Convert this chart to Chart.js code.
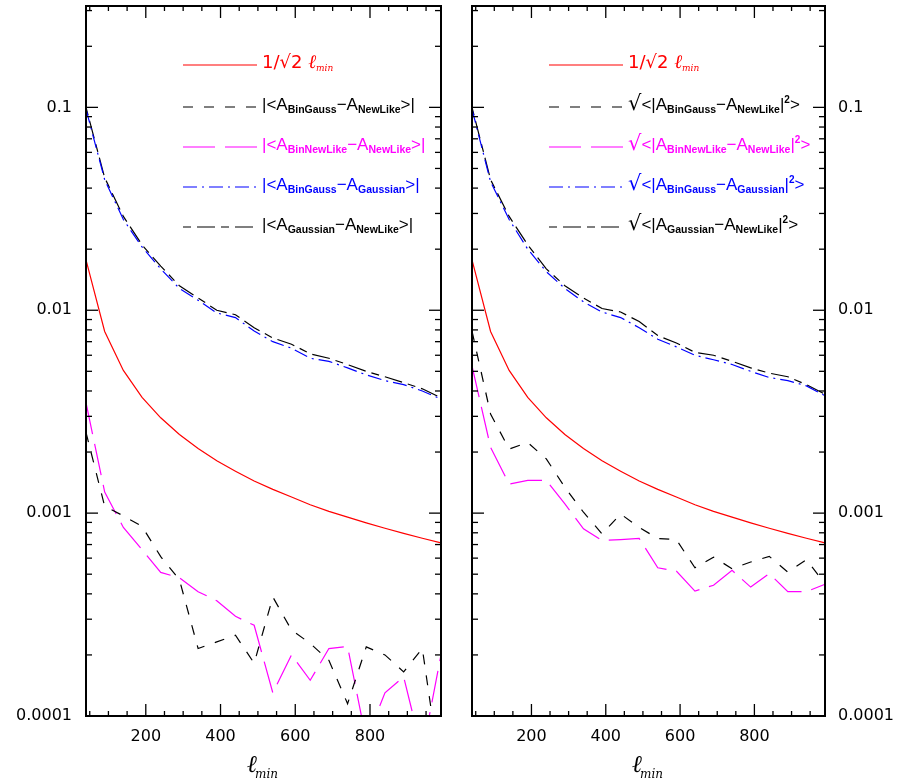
<!DOCTYPE html>
<html>
<head>
<meta charset="utf-8">
<script src="https://cdn.jsdelivr.net/npm/chart.js@4.4.1/dist/chart.umd.min.js"></script>
<style>
  html, body { margin: 0; padding: 0; background: #fff; }
  #wrap { position: relative; width: 901px; height: 783px; }
  canvas { position: absolute; left: 0; top: 0; }
</style>
</head>
<body>
<div id="wrap">
  <canvas id="leftChart" width="901" height="783"></canvas>
  <canvas id="rightChart" width="901" height="783"></canvas>
</div>
<script>
// l_min sample points, same for both panels
const lMin = [40, 90, 140, 190, 240, 290, 340, 390, 440, 490, 540, 590, 640, 690, 740, 790, 840, 890, 940, 990];

// red curve 1/sqrt2 l_min
const halfRootL = [0.0177, 0.00786, 0.00505, 0.00372, 0.00295, 0.00244, 0.00208, 0.00181, 0.00161, 0.00144,
                   0.00131, 0.00120, 0.00110, 0.00102, 0.000956, 0.000895, 0.000842, 0.000795, 0.000752, 0.000714];

// left panel: |<A - A>|
const absBinGaussNewLike = [0.0025, 0.00108, 0.00097, 0.00086, 0.00061, 0.00047, 0.000215, 0.000232, 0.00025, 0.000182,
                            0.000386, 0.000265, 0.000228, 0.000188, 0.000115, 0.000219, 0.0002, 0.000165, 0.000215, 0.00005];
const absBinNewLikeNewLike = [0.0035, 0.00127, 0.00085, 0.00066, 0.00051, 0.00048, 0.00041, 0.00037, 0.00031, 0.00028,
                              0.00013, 0.0002, 0.00015, 0.000215, 0.00022, 0.000076, 0.00013, 0.000156, 0.000066, 0.0002];
const absBinGaussGaussian = [0.098, 0.044, 0.028, 0.0205, 0.016, 0.0128, 0.0112, 0.0097, 0.0092, 0.0079,
                             0.0070, 0.0065, 0.0058, 0.0056, 0.0052, 0.0048, 0.0045, 0.0043, 0.0040, 0.00365];
const absGaussianNewLike = [0.1, 0.045, 0.029, 0.021, 0.0165, 0.0132, 0.0115, 0.0100, 0.0095, 0.0082,
                            0.0073, 0.0068, 0.0061, 0.0058, 0.0054, 0.0050, 0.0047, 0.0044, 0.0041, 0.0037];

// right panel: sqrt<|A - A|^2>
const rmsBinGaussNewLike = [0.0079, 0.00308, 0.00207, 0.00223, 0.00185, 0.00134, 0.00101, 0.00079, 0.00099, 0.00085,
                            0.00075, 0.00074, 0.000538, 0.000607, 0.000532, 0.000574, 0.000612, 0.000512, 0.000589, 0.000449];
const rmsBinNewLikeNewLike = [0.00532, 0.00211, 0.00139, 0.00145, 0.00145, 0.00111, 0.000837, 0.000733, 0.00074, 0.00075,
                              0.000538, 0.000518, 0.000413, 0.000441, 0.000522, 0.000432, 0.000503, 0.00041, 0.00041, 0.000446];
const rmsBinGaussGaussian = [0.098, 0.043, 0.028, 0.020, 0.0155, 0.0128, 0.011, 0.0098, 0.0092, 0.0082,
                             0.0072, 0.0066, 0.0060, 0.0057, 0.0054, 0.0050, 0.00466, 0.0045, 0.00424, 0.00379];
const rmsGaussianNewLike = [0.1, 0.044, 0.029, 0.021, 0.016, 0.0132, 0.0115, 0.0102, 0.0098, 0.0088,
                            0.0075, 0.0069, 0.0062, 0.0060, 0.0056, 0.0052, 0.0049, 0.0047, 0.0043, 0.00386];

// axis ticks
const xLabelTicks = [200, 400, 600, 800];
const xMinorTicks = [50, 100, 150, 200, 250, 300, 350, 400, 450, 500, 550, 600, 650, 700, 750, 800, 850, 900, 950];
const yDecades = [0.0001, 0.001, 0.01, 0.1];
const yTickLabels = ["0.0001", "0.001", "0.01", "0.1"];
const yMinorSteps = [2, 3, 4, 5, 6, 7, 8, 9];

// legend texts, split in pieces: [text, kind]
const redLabel = [["1/\u221A2 ", "big"], ["\u2113", "ell"], ["min", "ellSub"]];
const legendLeft = [
  redLabel,
  [["|<A", "n"], ["BinGauss", "sub"], ["\u2212A", "n"], ["NewLike", "sub"], [">|", "n"]],
  [["|<A", "n"], ["BinNewLike", "sub"], ["\u2212A", "n"], ["NewLike", "sub"], [">|", "n"]],
  [["|<A", "n"], ["BinGauss", "sub"], ["\u2212A", "n"], ["Gaussian", "sub"], [">|", "n"]],
  [["|<A", "n"], ["Gaussian", "sub"], ["\u2212A", "n"], ["NewLike", "sub"], [">|", "n"]]
];
const legendRight = [
  redLabel,
  [["\u221A", "root"], ["<|A", "n"], ["BinGauss", "sub"], ["\u2212A", "n"], ["NewLike", "sub"], ["|", "n"], ["2", "sup"], [">", "n"]],
  [["\u221A", "root"], ["<|A", "n"], ["BinNewLike", "sub"], ["\u2212A", "n"], ["NewLike", "sub"], ["|", "n"], ["2", "sup"], [">", "n"]],
  [["\u221A", "root"], ["<|A", "n"], ["BinGauss", "sub"], ["\u2212A", "n"], ["Gaussian", "sub"], ["|", "n"], ["2", "sup"], [">", "n"]],
  [["\u221A", "root"], ["<|A", "n"], ["Gaussian", "sub"], ["\u2212A", "n"], ["NewLike", "sub"], ["|", "n"], ["2", "sup"], [">", "n"]]
];

const fonts = {
  n: ["17px 'Liberation Sans'", 0],
  sub: ["bold 10.5px 'Liberation Sans'", 3],
  sup: ["bold 10px 'Liberation Sans'", -7],
  root: ["21px 'DejaVu Sans'", 0],
  big: ["18px 'DejaVu Sans'", 0],
  ell: ["italic 19px 'DejaVu Serif'", 0],
  ellSub: ["italic 9px 'DejaVu Serif'", 3]
};

function drawPieces(ctx, pieces, x, y, color) {
  ctx.fillStyle = color;
  ctx.textBaseline = "alphabetic";
  ctx.textAlign = "left";
  pieces.forEach(([t, kind]) => {
    ctx.font = fonts[kind][0];
    ctx.fillText(t, x, y + fonts[kind][1]);
    x += ctx.measureText(t).width;
  });
}

function line(ctx, x1, y1, x2, y2) {
  ctx.beginPath();
  ctx.moveTo(x1, y1);
  ctx.lineTo(x2, y2);
  ctx.stroke();
}

// frame, inside ticks, legend and axis title
const framePlugin = {
  id: "frame",
  afterDraw(chart, args, opts) {
    const ctx = chart.ctx;
    const a = chart.chartArea;
    const x = chart.scales.x, y = chart.scales.y;
    ctx.save();
    ctx.strokeStyle = "#000";
    ctx.lineWidth = 1.3;
    xMinorTicks.forEach(v => {
      const px = x.getPixelForValue(v);
      const len = xLabelTicks.includes(v) ? 12 : 5;
      line(ctx, px, a.bottom, px, a.bottom - len);
      line(ctx, px, a.top, px, a.top + len);
    });
    yDecades.forEach(d => {
      const py = y.getPixelForValue(d);
      line(ctx, a.left, py, a.left + 12, py);
      line(ctx, a.right, py, a.right - 12, py);
      yMinorSteps.forEach(m => {
        const v = d * m;
        if (v > y.max) return;
        const pm = y.getPixelForValue(v);
        line(ctx, a.left, pm, a.left + 6, pm);
        line(ctx, a.right, pm, a.right - 6, pm);
      });
    });
    ctx.lineWidth = 2;
    ctx.strokeRect(a.left, a.top, a.right - a.left, a.bottom - a.top);

    // legend
    chart.data.datasets.forEach((ds, i) => {
      const ly = opts.legendY + i * opts.legendStep + (i > 0 ? 2 : 0);
      ctx.strokeStyle = ds.borderColor;
      ctx.lineWidth = 1.2;
      ctx.setLineDash(ds.borderDash || []);
      line(ctx, opts.legendX, ly, opts.legendX + 74, ly);
      ctx.setLineDash([]);
      drawPieces(ctx, opts.legend[i], opts.legendX + 79, ly + 3, ds.borderColor);
    });

    // axis title l_min
    const cx = (a.left + a.right) / 2;
    ctx.fillStyle = "#000";
    ctx.font = "italic 24px 'DejaVu Serif'";
    const w1 = ctx.measureText("\u2113").width;
    ctx.font = "italic 12px 'DejaVu Serif'";
    const w2 = ctx.measureText("min").width;
    const sx = cx - (w1 + w2) / 2;
    ctx.textAlign = "left";
    ctx.textBaseline = "alphabetic";
    ctx.font = "italic 24px 'DejaVu Serif'";
    ctx.fillText("\u2113", sx, 772);
    ctx.font = "italic 12px 'DejaVu Serif'";
    ctx.fillText("min", sx + w1 - 2, 778);
    ctx.restore();
  }
};

function makeSeries(values) {
  return values.map((v, i) => ({ x: lMin[i], y: v }));
}

function makeDatasets(lowBlack, lowMagenta, highBlue, highBlack) {
  const base = { pointRadius: 0, borderWidth: 1.2, tension: 0, fill: false, clip: 1 };
  return [
    { ...base, label: "1/sqrt2 lmin", data: makeSeries(halfRootL), borderColor: "#ff0000" },
    { ...base, label: "BinGauss-NewLike", data: makeSeries(lowBlack), borderColor: "#000000", borderDash: [10, 11] },
    { ...base, label: "BinNewLike-NewLike", data: makeSeries(lowMagenta), borderColor: "#ff00ff", borderDash: [32, 10] },
    { ...base, label: "BinGauss-Gaussian", data: makeSeries(highBlue), borderColor: "#0000ff", borderDash: [14, 5, 2, 5] },
    { ...base, label: "Gaussian-NewLike", data: makeSeries(highBlack), borderColor: "#000000", borderDash: [8, 6, 18, 6] }
  ];
}

function makeChart(id, side, datasets, legend, legendX) {
  const right = side === "right";
  return new Chart(document.getElementById(id), {
    type: "line",
    data: { datasets },
    options: {
      responsive: false,
      animation: false,
      events: [],
      layout: { padding: { top: 6, left: right ? 472 : 0, right: right ? 0 : 460, bottom: 0 } },
      plugins: {
        legend: { display: false },
        tooltip: { enabled: false },
        frame: { legend, legendX, legendY: 65, legendStep: 40 }
      },
      scales: {
        x: {
          type: "linear",
          min: 40,
          max: 990,
          grid: { display: false, drawTicks: false },
          border: { display: false },
          afterBuildTicks: s => { s.ticks = xLabelTicks.map(v => ({ value: v })); },
          afterFit: s => { s.height = 67; s.paddingLeft = 0; s.paddingRight = 0; },
          ticks: { padding: 11, color: "#000", font: { family: "DejaVu Sans", size: 16 }, maxRotation: 0 }
        },
        y: {
          type: "logarithmic",
          position: right ? "right" : "left",
          min: 0.0001,
          max: 0.316,
          grid: { display: false, drawTicks: false },
          border: { display: false },
          afterBuildTicks: s => { s.ticks = yDecades.map(v => ({ value: v })); },
          afterFit: s => { s.width = right ? 76 : 86; s.paddingTop = 0; s.paddingBottom = 0; },
          ticks: {
            padding: right ? 13 : 14,
            color: "#000",
            font: { family: "DejaVu Sans", size: 16 },
            callback: (v) => yTickLabels[yDecades.indexOf(v)]
          }
        }
      }
    },
    plugins: [framePlugin]
  });
}

makeChart("leftChart", "left",
  makeDatasets(absBinGaussNewLike, absBinNewLikeNewLike, absBinGaussGaussian, absGaussianNewLike),
  legendLeft, 183);
makeChart("rightChart", "right",
  makeDatasets(rmsBinGaussNewLike, rmsBinNewLikeNewLike, rmsBinGaussGaussian, rmsGaussianNewLike),
  legendRight, 549);
</script>
</body>
</html>
